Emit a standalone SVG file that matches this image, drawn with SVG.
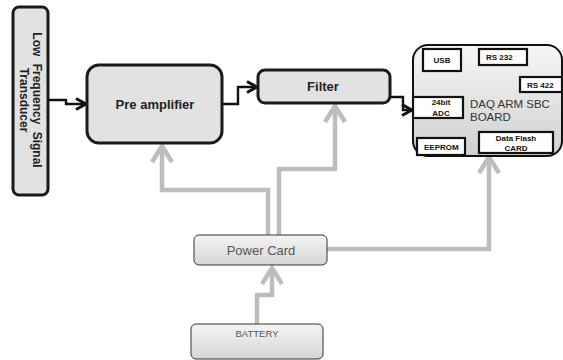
<svg xmlns="http://www.w3.org/2000/svg" width="563" height="360" viewBox="0 0 563 360">
<defs>
<linearGradient id="gBoard" x1="0" y1="0" x2="0" y2="1"><stop offset="0" stop-color="#f6f6f6"/><stop offset="1" stop-color="#d0d0d0"/></linearGradient>
<linearGradient id="gPow" x1="0" y1="0" x2="0" y2="1"><stop offset="0" stop-color="#f4f4f4"/><stop offset="1" stop-color="#d6d6d6"/></linearGradient>
<marker id="blk" viewBox="0 0 14 14" refX="12" refY="7" markerWidth="14" markerHeight="14" markerUnits="userSpaceOnUse" orient="auto"><path d="M2,1.5 L12,7 L2,12.5" fill="none" stroke="#111" stroke-width="3"/></marker>
<marker id="gry" viewBox="0 0 24 24" refX="20" refY="12" markerWidth="24" markerHeight="24" markerUnits="userSpaceOnUse" orient="auto"><path d="M4,2 L20,12 L4,22" fill="none" stroke="#bdbdbd" stroke-width="4.5"/></marker>
</defs>
<style>
.blk{fill:#e2e2e2;stroke:#1a1a1a;stroke-width:3}
.in{fill:#fff;stroke:#111;stroke-width:2.2}
.bl{font-family:"Liberation Sans",Arial,sans-serif;font-weight:bold;fill:#222}
.sm{font-family:"Liberation Sans",Arial,sans-serif;font-weight:bold;fill:#111;font-size:8px}
.gt{font-family:"Liberation Sans",Arial,sans-serif;fill:#555}
.bc{fill:none;stroke:#111;stroke-width:2.4;marker-end:url(#blk)}
.gc{fill:none;stroke:#bdbdbd;stroke-width:4.5;marker-end:url(#gry)}
</style>
<rect width="563" height="360" fill="#fff"/>
<g id="connectors">
<path class="bc" d="M48,100 H66 V104 H86"/>
<path class="bc" d="M222,104 H238 V87 H257"/>
<path class="bc" d="M390,97 H403 V110 H412"/>
<path class="gc" d="M268,235 V190 H162 V146"/>
<path class="gc" d="M279,235 V169 H335 V106"/>
<path class="gc" d="M327,249 H489 V157"/>
<path class="gc" d="M257,324 V295 H272 V268"/>
</g>
<g id="transducer">
<rect class="blk" x="13" y="7" width="35" height="188" rx="6"/>
<text class="bl" font-size="12" word-spacing="4" transform="translate(33,100) rotate(90)" text-anchor="middle">Low Frequency Signal</text>
<text class="bl" font-size="12" transform="translate(20,100) rotate(90)" text-anchor="middle">Transducer</text>
</g>
<g id="preamp">
<rect class="blk" x="87" y="65" width="135" height="78" rx="12"/>
<text class="bl" font-size="13" x="155" y="109" text-anchor="middle">Pre amplifier</text>
</g>
<g id="filter">
<rect class="blk" x="258" y="70" width="132" height="33" rx="7"/>
<text class="bl" font-size="13" x="323" y="91" text-anchor="middle" fill="#333">Filter</text>
</g>
<g id="daq">
<rect x="413" y="45" width="149" height="111" rx="15" fill="url(#gBoard)" stroke="#111" stroke-width="2"/>
<rect class="in" x="423" y="49" width="38" height="22"/>
<text class="sm" x="442" y="63" text-anchor="middle">USB</text>
<rect class="in" x="479" y="49" width="48" height="16"/>
<text class="sm" x="486" y="60" font-size="7">RS 232</text>
<rect class="in" x="520" y="77" width="42" height="15"/>
<text class="sm" x="527" y="88" font-size="7">RS 422</text>
<rect class="in" x="413" y="97" width="50" height="21"/>
<text class="sm" x="441" y="105" text-anchor="middle" font-size="9">24bit</text>
<text class="sm" x="441" y="115.5" text-anchor="middle" font-size="9">ADC</text>
<text font-family="'Liberation Sans',Arial,sans-serif" font-size="11.5" fill="#333" x="470" y="108">DAQ ARM SBC</text>
<text font-family="'Liberation Sans',Arial,sans-serif" font-size="11.5" fill="#333" x="470" y="121">BOARD</text>
<rect class="in" x="417" y="138" width="48" height="17"/>
<text class="sm" x="424" y="150" font-size="7">EEPROM</text>
<rect class="in" x="479" y="132" width="74" height="21"/>
<text class="sm" x="516" y="140.5" text-anchor="middle" font-size="9.5">Data Flash</text>
<text class="sm" x="516" y="151" text-anchor="middle" font-size="9.5">CARD</text>
</g>
<g id="powercard">
<rect x="194" y="235" width="133" height="30" rx="5" fill="url(#gPow)" stroke="#333" stroke-width="1"/>
<text class="gt" font-size="13" x="261" y="254.5" text-anchor="middle">Power Card</text>
</g>
<g id="battery">
<rect x="191" y="324" width="132" height="35" rx="5" fill="url(#gPow)" stroke="#333" stroke-width="1"/>
<text class="gt" font-size="9.5" x="257" y="337" text-anchor="middle">BATTERY</text>
</g>
</svg>
